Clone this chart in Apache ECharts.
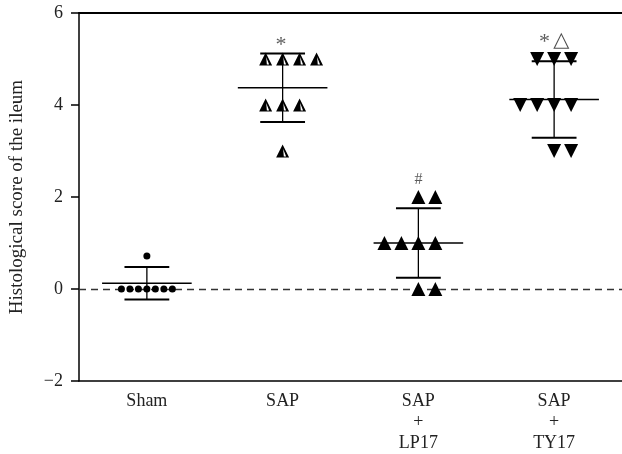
<!DOCTYPE html>
<html>
<head>
<meta charset="utf-8">
<script src="https://cdn.jsdelivr.net/npm/echarts@6/dist/echarts.min.js"></script>
<style>
  html, body { margin: 0; padding: 0; background: #fff; }
  #main { width: 622px; height: 454px; }
</style>
</head>
<body>
<div id="main"></div>
<script>
// 分组
var groups = ['Sham', 'SAP', 'SAP\n+\nLP17', 'SAP\n+\nTY17'];
var yTicks = [-2, 0, 2, 4, 6];

// 每组的点: slot = 横向排开的位置序号, val = 评分
var shamSlot = [-3, -2, -1, 0, 1, 2, 3, 0];
var shamVal = [0, 0, 0, 0, 0, 0, 0, 0.72];
var sapSlot = [-1, 0, 1, 2, -1, 0, 1, 0];
var sapVal = [5, 5, 5, 5, 4, 4, 4, 3];
var lpSlot = [0, 1, -2, -1, 0, 1, 0, 1];
var lpVal = [2, 2, 1, 1, 1, 1, 0, 0];
var tySlot = [-1, 0, 1, -2, -1, 0, 1, 0, 1];
var tyVal = [5, 5, 5, 4, 4, 4, 4, 3, 3];

// 均值 ± SD
var means = [0.125, 4.375, 1.0, 4.12];
var sds = [0.354, 0.744, 0.756, 0.83];

// 显著性标记
var markText = ['*', '#', '*△'];
var markGroup = [1, 2, 3];
var markVal = [5.3, 2.38, 5.36];

var SERIF = '"Liberation Serif", "DejaVu Serif", serif';

function pts(g, slots, vals, step) {
    var out = [];
    for (var i = 0; i < vals.length; i++)
        out.push([g + slots[i] * step, vals[i]]);
    return out;
}

var errData = [];
for (var i = 0; i < means.length; i++) errData.push([i, means[i], sds[i]]);

var marks = [];
for (var i = 0; i < markText.length; i++) marks.push([markGroup[i], markVal[i], markText[i]]);

var chart = echarts.init(document.getElementById('main'));

var option = {
    animation: false,
    grid: { left: 79, right: -1, top: 13, bottom: 70 },
    xAxis: [
        {
            type: 'category', data: groups, position: 'bottom', boundaryGap: true,
            axisLine: { onZero: false, lineStyle: { color: '#000', width: 1.6 } },
            axisTick: { show: false },
            axisLabel: { color: '#222', fontFamily: SERIF, fontSize: 18, lineHeight: 21, margin: 10, interval: 0 },
            splitLine: { show: false }
        },
        {
            type: 'value', min: -0.5, max: 3.5, position: 'top',
            axisLine: { show: true, onZero: false, lineStyle: { color: '#000', width: 2 } },
            axisTick: { show: false }, axisLabel: { show: false }, splitLine: { show: false }
        }
    ],
    yAxis: {
        type: 'value', min: yTicks[0], max: yTicks[yTicks.length - 1], interval: 2,
        name: 'Histological score of the ileum', nameLocation: 'middle', nameGap: 52,
        nameTextStyle: { color: '#222', fontFamily: SERIF, fontSize: 19 },
        axisLine: { show: true, onZero: false, lineStyle: { color: '#000', width: 1.5 } },
        axisTick: { show: true, inside: false, length: 8, lineStyle: { color: '#000', width: 1.5 } },
        axisLabel: {
            color: '#222', fontFamily: SERIF, fontSize: 18, margin: 16,
            formatter: function (v) { return v < 0 ? '\u2212' + (-v) : String(v); }
        },
        splitLine: { show: false }
    },
    series: [
        {
            type: 'custom', xAxisIndex: 1, data: errData, z: 3,
            renderItem: function (params, api) {
                var g = api.value(0), m = api.value(1), sd = api.value(2);
                var c = api.coord([g, m]);
                var hi = api.coord([g, m + sd]);
                var lo = api.coord([g, m - sd]);
                var hm = api.size([0.33, 0])[0];
                var hc = api.size([0.165, 0])[0];
                var st = { stroke: '#000', lineWidth: 1.3 };
                var cap = { stroke: '#000', lineWidth: 2 };
                return {
                    type: 'group', children: [
                        { type: 'line', shape: { x1: c[0] - hm, y1: c[1], x2: c[0] + hm, y2: c[1] }, style: st },
                        { type: 'line', shape: { x1: c[0], y1: hi[1], x2: c[0], y2: lo[1] }, style: st },
                        { type: 'line', shape: { x1: c[0] - hc, y1: hi[1], x2: c[0] + hc, y2: hi[1] }, style: cap },
                        { type: 'line', shape: { x1: c[0] - hc, y1: lo[1], x2: c[0] + hc, y2: lo[1] }, style: cap }
                    ]
                };
            }
        },
        {
            name: 'Sham', type: 'scatter', xAxisIndex: 1, z: 5,
            symbol: 'circle', symbolSize: 7,
            itemStyle: { color: '#000', opacity: 1 },
            data: pts(0, shamSlot, shamVal, 0.0625),
            markLine: {
                silent: true, symbol: 'none', label: { show: false },
                lineStyle: { color: '#333', type: [7, 5], width: 1.4 },
                data: [{ yAxis: 0 }]
            }
        },
        {
            name: 'SAP', type: 'scatter', xAxisIndex: 1, z: 5,
            symbol: 'path://M6 0 L12 12 L0 12 Z M6.5 4.2 L7.1 11 L9.2 11 Z', symbolSize: 13,
            itemStyle: { color: '#000', opacity: 1 },
            data: pts(1, sapSlot, sapVal, 0.125)
        },
        {
            name: 'SAP+LP17', type: 'scatter', xAxisIndex: 1, z: 5,
            symbol: 'triangle', symbolSize: 14,
            itemStyle: { color: '#000', opacity: 1 },
            data: pts(2, lpSlot, lpVal, 0.125)
        },
        {
            name: 'SAP+TY17', type: 'scatter', xAxisIndex: 1, z: 5,
            symbol: 'triangle', symbolRotate: 180, symbolSize: 14,
            itemStyle: { color: '#000', opacity: 1 },
            data: pts(3, tySlot, tyVal, 0.125)
        },
        {
            type: 'scatter', xAxisIndex: 1, symbolSize: 0, silent: true, z: 6,
            data: marks,
            label: {
                show: true, position: 'inside',
                formatter: function (p) {
                    return p.value[2].replace('*', '{s|*} ').replace('#', '{h|#}').replace('△', '{t|△}');
                },
                rich: {
                    s: { fontFamily: SERIF, fontSize: 22, color: '#333' },
                    h: { fontFamily: SERIF, fontSize: 16, color: '#333' },
                    t: { fontFamily: '"DejaVu Sans", sans-serif', fontSize: 21, color: '#222', padding: [0, 0, 4, 0] }
                }
            }
        }
    ]
};
chart.setOption(option);
</script>
</body>
</html>
